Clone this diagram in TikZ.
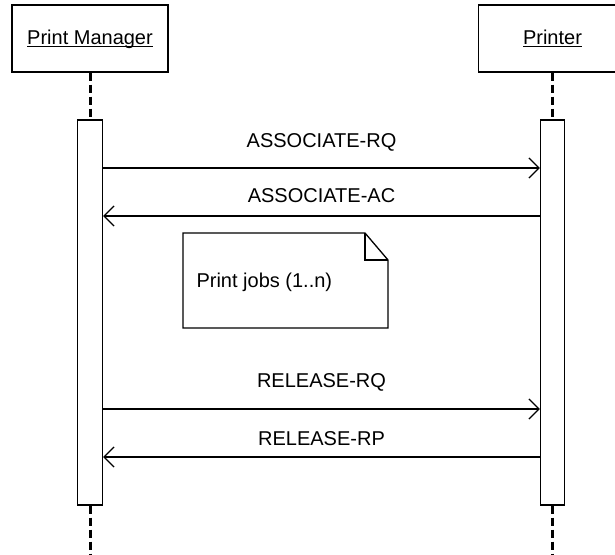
\documentclass[tikz,border=0pt]{standalone}
\usepackage{fontspec}
\setmainfont{Liberation Sans}
\usetikzlibrary{arrows.meta}

\begin{document}
\begin{tikzpicture}[x=1pt,y=-1pt,font=\fontsize{20}{24}\selectfont,
  box/.style={draw, line width=1.3pt, inner sep=0pt},
  life/.style={line width=3pt, dash pattern=on 8pt off 4pt},
  msg/.style={line width=1.3pt, -{Straight Barb[length=10pt,width=20pt]}}]
\useasboundingbox (0,0) rectangle (615,554);

\node[box, minimum width=156pt, minimum height=67pt] (pm) at(90,38.5) {\underline{\raisebox{0pt}[\height][0pt]{Print Manager}}};
\node[box, minimum width=148pt, minimum height=67pt] (pr) at(552.5,38.5) {\underline{\raisebox{0pt}[\height][0pt]{Printer}}};

\node[box, minimum width=25pt, minimum height=385pt] (pmbar) at(90,312.5) {};
\node[box, minimum width=24pt, minimum height=385pt] (prbar) at(552.5,312.5) {};

\coordinate (pmend) at(90,560);
\coordinate (prend) at(552.5,560);
\draw[life] (pm.south) -- (pmbar.north);
\draw[life] (pmbar.south) -- (pmend);
\draw[life] (pr.south) -- (prbar.north);
\draw[life] (prbar.south) -- (prend);

\coordinate (m1) at(0,168);
\coordinate (m2) at(0,216);
\coordinate (m3) at(0,409);
\coordinate (m4) at(0,457);

\draw[msg] (pmbar.east |- m1) -- (prbar.west |- m1) node[midway, anchor=base, yshift=21pt] {ASSOCIATE-RQ};
\draw[msg] (prbar.west |- m2) -- (pmbar.east |- m2) node[midway, anchor=base, yshift=14pt] {ASSOCIATE-AC};

\draw[line width=1.3pt] (183,233) -- (365,233) -- (388,260) -- (388,328) -- (183,328) -- cycle;
\draw[line width=1.3pt] (365,233) -- (365,260) -- (388,260);
\node[anchor=base west] (jobs) at(193,287) {Print jobs (1..n)};

\draw[msg] (pmbar.east |- m3) -- (prbar.west |- m3) node[midway, anchor=base, yshift=22pt] {RELEASE-RQ};
\draw[msg] (prbar.west |- m4) -- (pmbar.east |- m4) node[midway, anchor=base, yshift=12pt] {RELEASE-RP};

\end{tikzpicture}
\end{document}
